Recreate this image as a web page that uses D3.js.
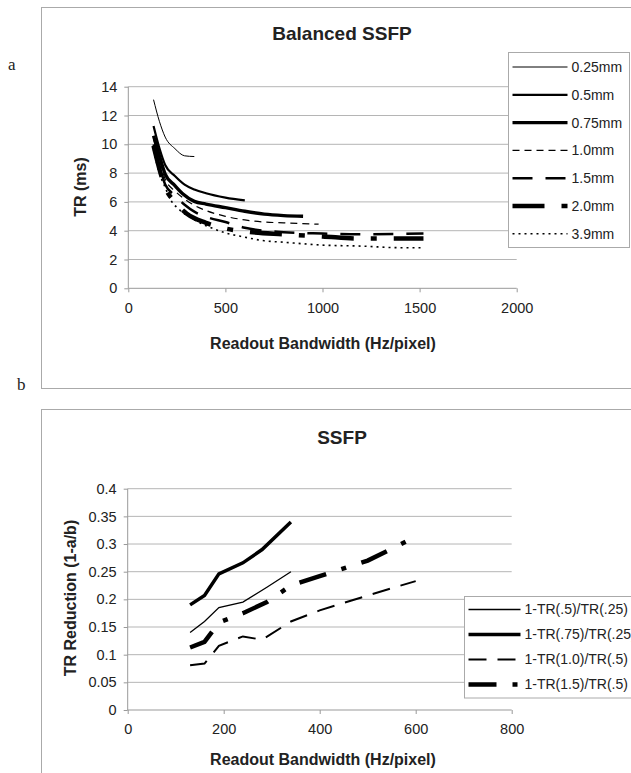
<!DOCTYPE html>
<html>
<head>
<meta charset="utf-8">
<script src="https://cdn.jsdelivr.net/npm/d3@7"></script>
<style>
body { margin: 0; background: #fff; }
text { font-family: "Liberation Sans", Arial, sans-serif; fill: #222; }
</style>
</head>
<body>
<script>
// panel a : TR (ms) against readout bandwidth, one series per resolution
const tr025 = [[130, 13.1], [160, 11.6], [190, 10.5], [240, 9.7], [290, 9.2], [340, 9.15]]
const tr05 = [[130, 11.27], [160, 9.74], [190, 8.56], [240, 7.8], [290, 7.2], [340, 6.86], [400, 6.6], [500, 6.3], [600, 6.1]]
const tr075 = [[130, 10.6], [160, 9.22], [190, 7.93], [240, 7.13], [280, 6.57], [340, 6.04], [400, 5.85], [500, 5.6], [600, 5.35], [700, 5.15], [800, 5.05], [900, 5.0]]
const tr10 = [[130, 10.37], [160, 8.93], [190, 7.58], [240, 6.76], [280, 6.29], [340, 5.76], [400, 5.4], [500, 5.0], [600, 4.75], [700, 4.6], [800, 4.55], [980, 4.45]]
const tr15 = [[130, 10.0], [160, 8.54], [190, 7.21], [240, 6.44], [290, 5.8], [340, 5.32], [400, 4.97], [500, 4.6], [600, 4.2], [800, 3.9], [1000, 3.8], [1200, 3.75], [1520, 3.8]]
const tr20 = [[130, 9.9], [160, 8.3], [190, 7.0], [240, 6.0], [300, 5.2], [400, 4.55], [500, 4.15], [600, 3.95], [800, 3.75], [1000, 3.6], [1200, 3.45], [1520, 3.45]]
const tr39 = [[130, 9.6], [160, 8.0], [190, 7.0], [220, 6.1], [260, 5.5], [340, 4.75], [400, 4.35], [500, 3.85], [600, 3.55], [700, 3.3], [800, 3.2], [1000, 3.0], [1200, 2.93], [1400, 2.82], [1520, 2.82]]
const namesA = ["0.25mm", "0.5mm", "0.75mm", "1.0mm", "1.5mm", "2.0mm", "3.9mm"]
const ticksAx = [0, 500, 1000, 1500, 2000]
const ticksAy = [0, 2, 4, 6, 8, 10, 12, 14]

// panel b : TR reduction
const red05 = [[130, 0.14], [160, 0.16], [190, 0.185], [240, 0.195], [290, 0.222], [340, 0.25]]
const red075 = [[130, 0.19], [160, 0.207], [190, 0.246], [240, 0.266], [280, 0.29], [340, 0.34]]
const red10 = [[130, 0.081], [160, 0.084], [190, 0.116], [240, 0.133], [280, 0.127], [340, 0.16], [400, 0.18], [500, 0.207], [600, 0.233]]
const red15 = [[130, 0.113], [160, 0.123], [190, 0.158], [240, 0.175], [290, 0.195], [340, 0.225], [400, 0.242], [500, 0.27], [600, 0.313]]
const namesB = ["1-TR(.5)/TR(.25)", "1-TR(.75)/TR(.25)", "1-TR(1.0)/TR(.5)", "1-TR(1.5)/TR(.5)"]
const ticksBx = [0, 200, 400, 600, 800]
const ticksBy = [0, 0.05, 0.1, 0.15, 0.2, 0.25, 0.3, 0.35, 0.4]

const svg = d3.select("body").append("svg")
    .attr("width", 631)
    .attr("height", 773)

// line looks (width, dash)
const styleA = [
    { w: 1, dash: null },
    { w: 2.2, dash: null },
    { w: 3.4, dash: null },
    { w: 1.2, dash: "7,5" },
    { w: 2.5, dash: "20,13" },
    { w: 4.5, dash: "32,17,6,17" },
    { w: 1.6, dash: "2,4" }
]
const styleB = [
    { w: 1.3, dash: null },
    { w: 3.5, dash: null },
    { w: 2, dash: "18,11" },
    { w: 4.5, dash: "28,16,5,16" }
]

function panel(o) {
    const g = svg.append("g")
    // outer chart frame
    g.append("rect")
        .attr("x", 41.5).attr("y", o.top)
        .attr("width", 620).attr("height", o.bottom - o.top)
        .attr("fill", "none").attr("stroke", "#aaa")

    g.append("text")
        .attr("x", 342).attr("y", o.titleY)
        .attr("text-anchor", "middle")
        .style("font-size", "19px").style("font-weight", "bold")
        .text(o.title)

    const [x0, x1] = o.x.range()
    // gridlines
    g.selectAll(".grid").data(o.yt.slice(1)).enter()
        .append("line")
        .attr("x1", x0).attr("x2", x1)
        .attr("y1", d => o.y(d)).attr("y2", d => o.y(d))
        .attr("stroke", "#b5b5b5").attr("stroke-width", 1)

    const ya = g.append("g").attr("transform", `translate(${x0},0)`)
        .call(d3.axisLeft(o.y).tickValues(o.yt).tickSize(4).tickPadding(7).tickFormat(o.yf))
    const xa = g.append("g").attr("transform", `translate(0,${o.y(0)})`)
        .call(d3.axisBottom(o.x).tickValues(o.xt).tickSize(4).tickPadding(10).tickFormat(d3.format("d")))
    for (const a of [ya, xa]) {
        a.selectAll("path,line").attr("stroke", "#999")
        a.selectAll("text").style("font-size", "14.5px").attr("fill", "#222")
        a.select(".domain").attr("d", null)
    }
    g.append("line").attr("x1", x0).attr("x2", x0)
        .attr("y1", o.y.range()[0]).attr("y2", o.y.range()[1]).attr("stroke", "#999")
    g.append("line").attr("x1", x0).attr("x2", x1)
        .attr("y1", o.y(0)).attr("y2", o.y(0)).attr("stroke", "#999")

    const line = d3.line()
        .x(d => o.x(d[0])).y(d => o.y(d[1]))
        .curve(o.curve)
    g.selectAll(".series").data(o.series).enter()
        .append("path")
        .attr("d", line)
        .attr("fill", "none")
        .attr("stroke", "#000")
        .attr("stroke-width", (d, i) => o.styles[i].w)
        .attr("stroke-dasharray", (d, i) => o.styles[i].dash)

    // axis titles
    g.append("text")
        .attr("transform", `translate(${o.ytX},${o.ytY}) rotate(-90)`)
        .attr("text-anchor", "middle")
        .style("font-size", "16px").style("font-weight", "bold")
        .text(o.ytitle)
    g.append("text")
        .attr("x", 323).attr("y", o.xtY)
        .attr("text-anchor", "middle")
        .style("font-size", "16px").style("font-weight", "bold")
        .text("Readout Bandwidth (Hz/pixel)")

    // legend (the box runs off the right edge, as in the original)
    const L = o.legend
    g.append("rect")
        .attr("x", L.x).attr("y", L.y).attr("width", L.w).attr("height", L.h)
        .attr("fill", "#fff").attr("stroke", "#aaa")
    const items = g.selectAll(".leg").data(o.names).enter().append("g")
        .attr("transform", (d, i) => `translate(0,${L.first + i * L.step})`)
    items.append("line")
        .attr("x1", L.x + 4).attr("x2", L.x + 4 + L.len)
        .attr("stroke", "#000")
        .attr("stroke-width", (d, i) => o.styles[i].w)
        .attr("stroke-dasharray", (d, i) => o.styles[i].dash)
    items.append("text")
        .attr("x", L.x + L.len + 8).attr("dy", "0.35em")
        .style("font-size", "14px")
        .text(d => d)
}

panel({
    top: 7.5, bottom: 388.5, title: "Balanced SSFP", titleY: 40,
    x: d3.scaleLinear([0, 2000], [128.3, 516.7]),
    y: d3.scaleLinear([0, 14], [288.3, 86.7]),
    xt: ticksAx, yt: ticksAy, yf: d3.format("d"),
    series: [tr025, tr05, tr075, tr10, tr15, tr20, tr39], styles: styleA,
    curve: d3.curveMonotoneX,
    ytitle: "TR (ms)", ytX: 86, ytY: 187, xtY: 349,
    names: namesA,
    legend: { x: 508.5, y: 52.5, w: 121, h: 195, first: 67, step: 27.8, len: 55 }
})

panel({
    top: 409.5, bottom: 790, title: "SSFP", titleY: 444,
    x: d3.scaleLinear([0, 800], [127.7, 511.7]),
    y: d3.scaleLinear([0, 0.4], [710, 488.7]),
    xt: ticksBx, yt: ticksBy, yf: d => d === 0 ? "0" : String(+d.toFixed(2)),
    series: [red05, red075, red10, red15], styles: styleB,
    curve: d3.curveLinear,
    ytitle: "TR Reduction (1-a/b)", ytX: 76, ytY: 598, xtY: 765,
    names: namesB,
    legend: { x: 464.5, y: 596.5, w: 180, h: 101.5, first: 609.5, step: 25, len: 52 }
})

// panel letters
svg.append("text").attr("x", 8).attr("y", 70)
    .style("font-family", "'Liberation Serif', serif").style("font-size", "17px").text("a")
svg.append("text").attr("x", 17).attr("y", 390)
    .style("font-family", "'Liberation Serif', serif").style("font-size", "17px").text("b")
</script>
</body>
</html>
